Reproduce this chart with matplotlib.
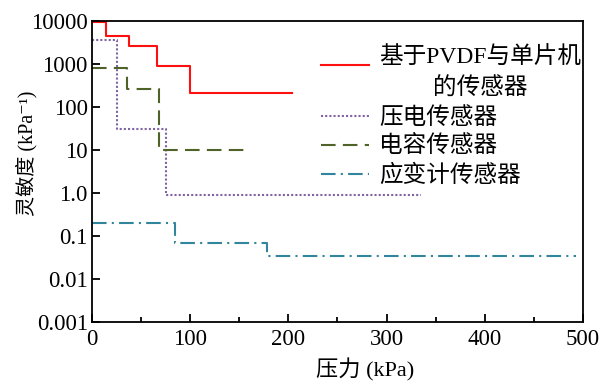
import numpy as np
import matplotlib
matplotlib.use("Agg")
import matplotlib.pyplot as plt
from matplotlib.ticker import FixedLocator, LogLocator, NullFormatter

plt.rcParams['font.family'] = ['Liberation Serif', 'Noto Sans CJK SC', 'DejaVu Sans']

# step data (x = pressure kPa, y = sensitivity kPa^-1)
pvdf_x = [0, 14, 37.7, 66.5, 100, 204]
pvdf_y = [9500, 4500, 2600, 900, 215, 215]
piezo_x = [0, 25.8, 75, 335]
piezo_y = [3700, 31, 0.88, 0.88]
cap_x = [0, 36, 68.5, 157.5]
cap_y = [800, 260, 10, 10]
strain_x = [0, 84.5, 178, 493]
strain_y = [0.2, 0.07, 0.034, 0.034]

labels = ['基于PVDF与单片机\n的传感器', '压电传感器', '电容传感器', '应变计传感器']
ytick_vals = [0.001, 0.01, 0.1, 1, 10, 100, 1000, 10000]
ytick_labels = ['0.001', '0.01', '0.1', '1.0', '10', '100', '1000', '10000']

fig = plt.figure(figsize=(6.12, 3.83), dpi=100)
ax = fig.add_axes([0.1503, 0.1593, 0.8023, 0.7857])

lw = 1.5
ax.step(pvdf_x, pvdf_y, where='post', color='#ff1010', lw=lw, label=labels[0])
ax.step(piezo_x, piezo_y, where='post', color='#8064a2', lw=lw,
        linestyle=(0, (1, 1)), label=labels[1])
ax.step(cap_x, cap_y, where='post', color='#4f6228', lw=lw,
        linestyle=(0, (7, 3.5)), label=labels[2])
ax.step(strain_x, strain_y, where='post', color='#31859c', lw=lw,
        linestyle=(0, (7, 2.5, 1, 2.5)), label=labels[3])

ax.set_yscale('log')
ax.set_xlim(0, 500)
ax.set_ylim(0.001, 10000)
ax.set_yticks(ytick_vals)
ax.set_yticklabels(ytick_labels)
ax.yaxis.set_minor_locator(LogLocator(base=10, subs=np.arange(2, 10)))
ax.yaxis.set_minor_formatter(NullFormatter())
ax.set_xticks([0, 100, 200, 300, 400, 500])
ax.xaxis.set_minor_locator(FixedLocator([50, 150, 250, 350, 450]))

ax.tick_params(which='both', direction='in', labelsize=16.5, width=1.3)
ax.tick_params(which='major', length=6)
ax.tick_params(which='minor', length=3.5)
ax.tick_params(axis='x', which='major', pad=5)
ax.tick_params(axis='y', which='major', pad=3)
for sp in ax.spines.values():
    sp.set_linewidth(1.3)

ax.set_xlabel('压力 (kPa)', fontsize=16)
ax.xaxis.set_label_coords(0.557, -0.12)
ax.set_ylabel('灵敏度 (kPa⁻¹)', fontsize=14.5)
ax.yaxis.set_label_coords(-0.112, 0.56)

leg = ax.legend(loc='upper left', bbox_to_anchor=(0.448, 0.945), frameon=False,
                fontsize=17, handlelength=2.0, handletextpad=0.45,
                labelspacing=0.3, borderaxespad=0)
for t in leg.get_texts():
    t.set_multialignment('center')
    t.set_linespacing(1.5)

# lift the first handle toward the first text line
h0 = leg.legend_handles[0]
yd = np.asarray(h0.get_ydata(), dtype=float)
h0.set_ydata(yd + 6)

fig.savefig('out.png', dpi=100)
